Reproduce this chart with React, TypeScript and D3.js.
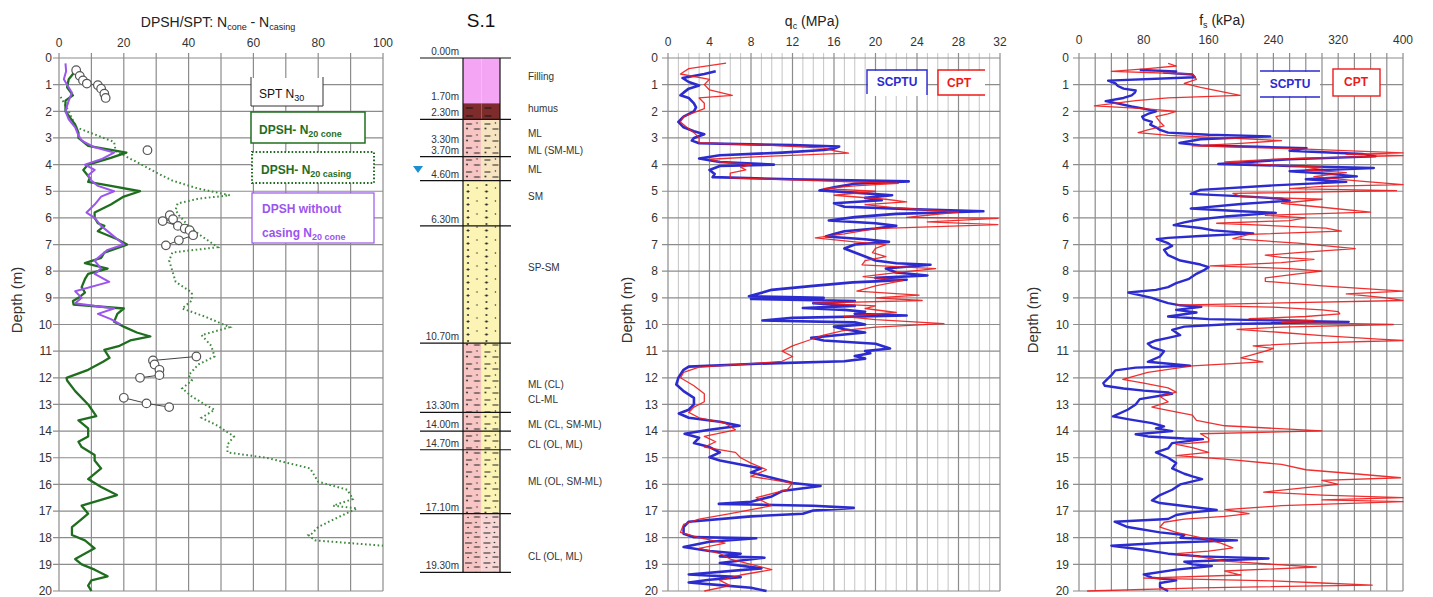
import * as d3 from "d3";

// ---------- DPSH / SPT panel: [depth m, N] ----------
const dpshCone: [number, number][] = [
  [0.5, 5], [0.8, 3], [1.1, 2.5], [1.4, 4.3], [1.6, 2], [2.0, 2], [2.5, 5], [2.8, 6], [3.0, 6], [3.3, 9],
  [3.45, 16], [3.55, 20.8], [3.75, 16], [4.0, 9], [4.2, 7.5], [4.5, 9.5], [4.65, 9], [4.8, 16], [5.0, 25],
  [5.2, 20], [5.5, 16], [5.8, 11], [6.0, 11], [6.2, 12], [6.3, 14], [6.5, 12], [6.8, 18], [7.0, 21],
  [7.3, 14], [7.5, 13], [7.7, 8], [7.9, 15], [8.1, 9], [8.3, 8], [8.6, 7], [8.8, 8], [9.0, 6], [9.12, 4.3],
  [9.25, 4.5], [9.4, 20], [9.6, 18], [9.9, 17], [10.1, 20.3], [10.3, 24], [10.45, 28.2], [10.6, 22],
  [10.8, 18.7], [10.95, 14], [11.25, 15.6], [11.4, 13.6], [11.7, 9], [12.0, 2.3], [12.1, 2.5], [12.5, 5],
  [13.0, 9], [13.44, 11.5], [13.6, 6], [13.9, 9], [14.2, 9], [14.4, 6], [14.6, 7], [14.9, 11], [15.1, 11],
  [15.4, 13], [15.8, 9], [16.1, 13], [16.4, 17.9], [16.8, 7], [17.1, 9], [17.3, 7], [17.6, 4], [17.9, 4],
  [18.1, 8], [18.4, 11], [18.8, 5], [19.0, 7], [19.2, 11], [19.45, 15], [19.6, 10], [19.8, 9], [20.0, 10],
];

const dpshNoCasing: [number, number][] = [
  [0.2, 2], [0.5, 2.2], [0.8, 1.5], [1.0, 2.5], [1.3, 4], [1.6, 3], [2.0, 2], [2.3, 3], [2.6, 5], [2.9, 6],
  [3.1, 7], [3.35, 11], [3.55, 17], [3.8, 13], [4.0, 8], [4.2, 11], [4.4, 9], [4.6, 10], [4.8, 12], [5.0, 17],
  [5.2, 13], [5.5, 11], [5.8, 8.5], [6.0, 11], [6.3, 13], [6.6, 16], [7.0, 20], [7.2, 15], [7.6, 11],
  [7.9, 13], [8.1, 11], [8.4, 15.5], [8.75, 5], [9.0, 7], [9.2, 5], [9.4, 17], [9.6, 12], [9.8, 16], [10.0, 19],
];

const dpshCasing: [number, number][] = [
  [1.46, 0.5], [2.0, 3], [2.6, 5.3], [3.15, 17], [3.5, 17.5], [3.96, 24.9], [4.3, 30], [4.6, 35], [4.9, 43],
  [5.15, 52.7], [5.28, 43], [5.46, 36.6], [5.7, 36], [5.9, 37], [6.3, 40], [6.6, 43], [7.1, 49], [7.3, 35],
  [7.6, 34], [8.0, 35], [8.4, 36], [8.8, 41], [9.1, 41], [9.4, 38], [9.7, 45], [10.1, 52.7], [10.4, 44],
  [10.8, 47], [11.2, 48], [11.5, 43], [11.9, 40], [12.1, 41], [12.4, 38], [12.7, 41], [13.0, 45], [13.2, 48],
  [13.5, 44], [13.8, 49], [14.2, 54], [14.5, 52], [14.8, 52], [15.0, 64], [15.4, 77.5], [15.9, 80],
  [16.2, 89], [16.55, 90.7], [16.8, 84.6], [16.9, 92], [17.3, 85], [17.6, 80], [17.85, 78], [17.9, 77],
  [18.1, 79], [18.3, 100],
];

const sptGroups: [number, number][][] = [
  [[0.46, 5.3], [0.67, 6.4], [0.84, 7.4], [0.96, 8.6], [1.02, 12], [1.15, 13], [1.34, 14], [1.5, 14.4]],
  [[3.46, 27.3]],
  [[5.9, 34.2], [6.05, 35.2], [6.12, 32], [6.3, 36.7], [6.4, 38.8], [6.46, 40.3], [6.65, 41.4], [6.84, 37], [7.03, 33]],
  [[11.2, 42.4], [11.35, 29], [11.5, 29.5], [11.7, 31], [11.9, 31], [12.0, 25]],
  [[12.75, 20], [12.96, 27], [13.1, 34]],
];

// ---------- borehole S.1 ----------
const layerBounds = [0, 1.7, 2.3, 3.7, 4.6, 6.3, 10.7, 13.3, 14.0, 14.7, 17.1, 19.3];
const layerLeftColors = ["#f4a6f4", "#7d2b2b", "#f8c5c5", "#f8c5c5", "#fbf4b4", "#fbf4b4", "#f8c5c5", "#f8c5c5", "#f8c5c5", "#f8c5c5", "#f8c5c5"];
const layerRightColors = ["#f4a6f4", "#7d2b2b", "#f7e4c0", "#f7e4c0", "#fbf4b4", "#fbf4b4", "#fbf4b4", "#fbf4b4", "#fbf4b4", "#fbf4b4", "#f8d6d6"];
const layerPatterns = ["", "humus", "silt", "silt", "sand", "sand", "silt", "silt", "silt", "silt", "clay"];
const lineDepths = [0, 2.3, 3.7, 4.6, 6.3, 10.7, 13.3, 14.0, 14.7, 17.1, 19.3];
const depthLabelValues = [0, 1.7, 2.3, 3.3, 3.7, 4.6, 6.3, 10.7, 13.3, 14.0, 14.7, 17.1, 19.3];
const depthLabelTexts = ["0.00m", "1.70m", "2.30m", "3.30m", "3.70m", "4.60m", "6.30m", "10.70m", "13.30m", "14.00m", "14.70m", "17.10m", "19.30m"];
const soilNames = ["Filling", "humus", "ML", "ML (SM-ML)", "ML", "SM", "SP-SM", "ML (CL)", "CL-ML", "ML (CL, SM-ML)", "CL (OL, ML)", "ML (OL, SM-ML)", "CL (OL, ML)"];
const soilNameDepths = [0.68, 1.9, 2.83, 3.46, 4.2, 5.2, 7.85, 12.25, 12.8, 13.75, 14.5, 15.9, 18.7];
const waterTable = 4.2;

// ---------- qc panel: [depth m, MPa] ----------
const qcScptu: [number, number][] = [
  [0.5, 4.6], [0.6, 3.5], [0.75, 1.4], [0.9, 2], [1.03, 3], [1.15, 2], [1.3, 1.5], [1.4, 1.2], [1.5, 2], [1.7, 2.5],
  [1.85, 2.7], [2.0, 2.5], [2.2, 1.5], [2.4, 1], [2.6, 1.5], [2.75, 2.5], [2.86, 3.5], [3.0, 2.5], [3.1, 2.3],
  [3.2, 3], [3.27, 12], [3.32, 16.5], [3.4, 16], [3.45, 15], [3.55, 11], [3.65, 5], [3.77, 3], [3.9, 5],
  [4.0, 10.2], [4.05, 5], [4.2, 4], [4.35, 4.5], [4.47, 4.3], [4.55, 12], [4.63, 23.2], [4.72, 18], [4.85, 16],
  [4.97, 14.6], [5.05, 18], [5.15, 21.6], [5.25, 19], [5.34, 20.6], [5.45, 16], [5.58, 17], [5.68, 24],
  [5.75, 30.4], [5.85, 22], [5.97, 18], [6.1, 15.5], [6.2, 20], [6.3, 22], [6.4, 20], [6.5, 17], [6.6, 16],
  [6.7, 15.2], [6.8, 19], [6.9, 21.3], [7.0, 18], [7.15, 17], [7.3, 18], [7.45, 19], [7.6, 20], [7.7, 22],
  [7.76, 25.3], [7.9, 21], [8.05, 22], [8.16, 25], [8.25, 20], [8.32, 23], [8.38, 20], [8.42, 17.8],
  [8.55, 14], [8.7, 10], [8.94, 7.8], [9.0, 15], [9.04, 8], [9.12, 18], [9.2, 14], [9.3, 18], [9.38, 13],
  [9.45, 17], [9.52, 19], [9.6, 18], [9.66, 23], [9.75, 12], [9.85, 9.1], [9.92, 18], [10.0, 19], [10.08, 16],
  [10.18, 17], [10.3, 19], [10.5, 13.8], [10.6, 15], [10.72, 20], [10.9, 21.4], [11.0, 19], [11.08, 19.5],
  [11.18, 18], [11.28, 19], [11.38, 17], [11.48, 8], [11.58, 2], [11.7, 1.5], [12.0, 1], [12.25, 0.8],
  [12.5, 1.5], [12.75, 2.5], [13.0, 2.5], [13.2, 2], [13.34, 1.05], [13.5, 2], [13.65, 5], [13.8, 6.9],
  [13.95, 4], [14.1, 1.6], [14.25, 3], [14.45, 2.5], [14.6, 4], [14.8, 5], [14.98, 4], [15.1, 5], [15.25, 7],
  [15.4, 9], [15.55, 8], [15.75, 10], [15.95, 12], [16.06, 14.7], [16.25, 11], [16.45, 10], [16.65, 8],
  [16.73, 4.9], [16.8, 14], [16.88, 17.9], [16.98, 14], [17.1, 13], [17.2, 8], [17.4, 2], [17.6, 1.5],
  [17.85, 1.5], [17.98, 2.5], [18.02, 8.5], [18.15, 4], [18.35, 1.5], [18.5, 4], [18.6, 7], [18.7, 5],
  [18.75, 9.3], [18.95, 5], [19.15, 9], [19.38, 2], [19.48, 7], [19.58, 4], [19.68, 2], [19.78, 5], [19.88, 8],
  [20.0, 9.5],
];

const qcCpt: [number, number][] = [
  [0.19, 5.6], [0.4, 2], [0.6, 1.2], [0.8, 4], [1.0, 3.5], [1.2, 4], [1.4, 6.2], [1.5, 3], [1.7, 3.5], [1.9, 3.5],
  [2.05, 2.5], [2.2, 1.5], [2.4, 1.2], [2.6, 1.8], [2.8, 2.5], [3.0, 3], [3.18, 3], [3.28, 10], [3.38, 15],
  [3.48, 16], [3.57, 17.4], [3.68, 10], [3.8, 4], [3.9, 5], [4.0, 8], [4.1, 7], [4.2, 7.5], [4.32, 6], [4.5, 6],
  [4.6, 14], [4.7, 22.2], [4.8, 18], [4.9, 15], [5.0, 20], [5.15, 16], [5.3, 21], [5.4, 23], [5.5, 19],
  [5.62, 22], [5.78, 28], [5.9, 25], [5.98, 23], [6.02, 31.8], [6.15, 25], [6.25, 31.8], [6.4, 20], [6.6, 17],
  [6.75, 14.2], [6.9, 18], [7.0, 21], [7.14, 20], [7.3, 19.7], [7.45, 21], [7.6, 19], [7.76, 18.7], [7.9, 25.8],
  [8.05, 22], [8.2, 18.8], [8.35, 22.6], [8.55, 20], [8.75, 18.2], [8.9, 24.2], [9.0, 20], [9.1, 24.5],
  [9.2, 14], [9.3, 20], [9.4, 19], [9.55, 22], [9.7, 17], [9.82, 20], [9.97, 26.6], [10.1, 20], [10.22, 17],
  [10.4, 15], [10.6, 13.5], [10.8, 12], [11.0, 11], [11.2, 12], [11.38, 11], [11.5, 7], [11.6, 3], [11.8, 1.5],
  [12.0, 1.2], [12.3, 2.5], [12.6, 3.5], [12.9, 3.5], [13.1, 2.5], [13.3, 2], [13.5, 3], [13.7, 5.5],
  [13.95, 6.5], [14.2, 3.5], [14.4, 4.6], [14.6, 3.5], [14.8, 6.5], [15.0, 7], [15.2, 8], [15.45, 9.5],
  [15.7, 8], [15.95, 12], [16.2, 11.5], [16.5, 8.5], [16.8, 10], [17.1, 6], [17.3, 3], [17.5, 1.5], [17.8, 1.2],
  [18.0, 3], [18.2, 5.5], [18.4, 3], [18.6, 5], [18.8, 6], [19.0, 8], [19.2, 10], [19.4, 7], [19.6, 5],
  [19.8, 6], [20.0, 3.5],
];

// ---------- fs panel: [depth m, kPa] ----------
const fsScptu: [number, number][] = [
  [0.45, 75], [0.5, 120], [0.55, 105], [0.62, 140], [0.72, 143], [0.85, 36], [0.95, 45], [1.05, 48], [1.15, 55],
  [1.22, 70], [1.3, 69], [1.4, 65], [1.5, 55], [1.62, 33], [1.72, 50], [1.82, 65], [1.9, 80], [2.0, 95],
  [2.1, 85], [2.2, 78], [2.3, 80], [2.4, 90], [2.5, 88], [2.6, 95], [2.7, 100], [2.8, 110], [2.88, 160],
  [2.94, 236], [3.05, 150], [3.19, 124], [3.28, 150], [3.33, 220], [3.38, 281], [3.48, 260], [3.6, 350],
  [3.69, 366], [3.8, 260], [3.98, 172], [4.05, 260], [4.13, 364], [4.25, 260], [4.35, 310], [4.44, 343],
  [4.55, 280], [4.65, 330], [4.78, 240], [4.95, 150], [5.1, 138], [5.2, 210], [5.28, 250], [5.35, 260],
  [5.48, 200], [5.65, 138], [5.75, 200], [5.81, 243], [5.95, 180], [6.05, 150], [6.17, 130], [6.27, 117],
  [6.38, 150], [6.47, 166], [6.58, 215], [6.68, 150], [6.75, 110], [6.8, 96], [6.95, 110], [7.05, 115],
  [7.2, 105], [7.4, 110], [7.6, 125], [7.75, 150], [7.85, 160], [7.95, 155], [8.1, 145], [8.3, 135],
  [8.45, 120], [8.6, 110], [8.7, 95], [8.8, 61], [8.9, 75], [9.0, 90], [9.1, 100], [9.2, 110], [9.28, 125],
  [9.34, 151], [9.45, 120], [9.55, 145], [9.7, 110], [9.8, 160], [9.9, 333], [9.98, 190], [10.08, 130],
  [10.2, 115], [10.3, 120], [10.4, 125], [10.5, 110], [10.6, 95], [10.72, 85], [10.85, 90], [11.0, 105],
  [11.2, 100], [11.4, 85], [11.55, 137], [11.62, 70], [11.72, 45], [11.9, 40], [12.05, 35], [12.2, 30],
  [12.3, 32], [12.4, 55], [12.48, 80], [12.55, 110], [12.6, 115], [12.8, 75], [13.0, 70], [13.2, 60],
  [13.45, 42], [13.55, 60], [13.7, 90], [13.82, 105], [13.9, 95], [14.0, 115], [14.12, 70], [14.2, 85],
  [14.28, 130], [14.3, 153], [14.45, 115], [14.65, 110], [14.8, 95], [15.0, 110], [15.2, 120], [15.4, 115],
  [15.6, 130], [15.7, 140], [15.8, 152], [16.0, 125], [16.2, 115], [16.4, 100], [16.6, 90], [16.7, 100],
  [16.85, 140], [16.96, 170], [17.05, 140], [17.15, 120], [17.3, 110], [17.4, 44], [17.6, 60], [17.8, 100],
  [17.9, 130], [18.0, 125], [18.1, 195], [18.2, 100], [18.3, 40], [18.45, 80], [18.6, 110], [18.7, 150],
  [18.78, 234], [18.9, 130], [19.0, 140], [19.06, 164], [19.2, 120], [19.38, 80], [19.5, 90], [19.6, 120],
  [19.7, 100], [19.85, 100], [20.0, 110],
];

const fsCpt: [number, number][] = [
  [0.2, 110], [0.3, 120], [0.4, 85], [0.5, 40], [0.6, 140], [0.8, 145], [0.95, 130], [1.1, 150], [1.4, 199],
  [1.5, 110], [1.6, 70], [1.8, 19], [1.9, 80], [2.0, 120], [2.1, 110], [2.2, 95], [2.4, 100], [2.55, 105],
  [2.7, 85], [2.8, 73], [2.9, 110], [3.0, 180], [3.1, 250], [3.2, 200], [3.3, 140], [3.42, 280], [3.56, 400],
  [3.62, 330], [3.66, 400], [3.72, 330], [3.8, 240], [3.9, 180], [4.0, 230], [4.1, 300], [4.2, 280], [4.3, 330],
  [4.45, 290], [4.6, 340], [4.75, 400], [4.82, 300], [4.9, 260], [4.98, 392], [5.08, 190], [5.2, 200],
  [5.3, 300], [5.45, 250], [5.6, 300], [5.78, 360], [5.9, 230], [6.0, 280], [6.1, 260], [6.2, 170], [6.38, 305],
  [6.5, 324], [6.62, 210], [6.78, 190], [6.95, 270], [7.15, 341], [7.3, 270], [7.4, 230], [7.48, 250],
  [7.56, 290], [7.68, 250], [7.8, 162], [7.9, 260], [8.0, 300], [8.1, 270], [8.25, 230], [8.38, 230],
  [8.55, 300], [8.75, 400], [8.85, 330], [9.0, 380], [9.1, 400], [9.27, 120], [9.35, 240], [9.45, 300],
  [9.52, 320], [9.6, 322], [9.7, 280], [9.78, 210], [9.85, 290], [9.92, 250], [10.0, 388], [10.1, 250],
  [10.18, 195], [10.3, 250], [10.42, 300], [10.55, 370], [10.6, 400], [10.7, 280], [10.8, 215], [10.9, 240],
  [11.0, 230], [11.25, 200], [11.4, 227], [11.55, 140], [11.8, 85], [12.06, 54], [12.2, 80], [12.38, 110],
  [12.54, 120], [12.7, 100], [12.9, 110], [13.1, 90], [13.22, 110], [13.4, 140], [13.6, 145], [13.8, 180],
  [13.99, 300], [14.1, 150], [14.28, 160], [14.4, 160], [14.5, 120], [14.62, 140], [14.8, 160], [14.92, 120],
  [15.05, 180], [15.25, 250], [15.45, 280], [15.6, 340], [15.75, 397], [15.85, 300], [16.0, 320], [16.12, 280],
  [16.29, 228], [16.4, 300], [16.5, 400], [16.58, 300], [16.65, 400], [16.8, 250], [16.95, 180], [17.1, 210],
  [17.2, 180], [17.3, 130], [17.42, 105], [17.6, 100], [17.8, 120], [18.0, 150], [18.2, 175], [18.38, 190],
  [18.5, 160], [18.6, 120], [18.72, 150], [18.88, 180], [19.0, 240], [19.1, 293], [19.25, 180], [19.4, 200],
  [19.52, 80], [19.62, 240], [19.7, 300], [19.78, 362], [19.88, 150], [20.0, 10],
];

const depthTicks = d3.range(0, 21);
const nTicks = [0, 20, 40, 60, 80, 100];
const qcTicks = [0, 4, 8, 12, 16, 20, 24, 28, 32];
const fsTicks = [0, 80, 160, 240, 320, 400];

const FONT = "'Liberation Sans', Arial, sans-serif";
const GREEN = "#1f6e1f";
const PURPLE = "#9b55ee";
const BLUE = "#2b2bcf";
const RED = "#ee1a1a";

export default function App() {
  const y = d3.scaleLinear().domain([0, 20]).range([58, 591]);
  const xN = d3.scaleLinear().domain([0, 100]).range([59, 383]);
  const xQc = d3.scaleLinear().domain([0, 32]).range([668, 1000]);
  const xFs = d3.scaleLinear().domain([0, 400]).range([1079, 1403]);

  const mk = (x: d3.ScaleLinear<number, number>) =>
    d3.line<[number, number]>().x((d) => x(d[1])).y((d) => y(d[0]));
  const lineN = mk(xN);
  const lineQc = mk(xQc);
  const lineFs = mk(xFs);

  const grid = (
    x: d3.ScaleLinear<number, number>,
    verticals: number[],
    majorTest: (v: number) => boolean,
    key: string
  ) => {
    const [x0, x1] = x.range();
    return (
      <g key={key}>
        {verticals.map((v) => (
          <line key={"v" + v} x1={x(v)} x2={x(v)} y1={y(0) - 5} y2={y(20)}
            stroke={majorTest(v) ? "#8c8c8c" : "#c4c4c4"} strokeWidth={majorTest(v) ? 1.2 : 1} />
        ))}
        {depthTicks.map((d) => (
          <line key={"h" + d} x1={x0 - 6} x2={x1} y1={y(d)} y2={y(d)} stroke="#8c8c8c" strokeWidth={1.2} />
        ))}
      </g>
    );
  };

  const depthLabels = (xRight: number) =>
    depthTicks.map((d) => (
      <text key={d} x={xRight} y={y(d)} dy="0.35em" textAnchor="end" fontSize={12} fill="#333">{d}</text>
    ));

  const colL = 463, colR = 500, colMid = 481.5;

  return (
    <svg width={1433} height={597} style={{ position: "absolute", left: 0, top: 0, background: "#fff" }} fontFamily={FONT}>
      <defs>
        <pattern id="sand" patternUnits="userSpaceOnUse" x={colL} y={0} width={18.5} height={13}>
          <circle cx={5} cy={3} r={1} fill="#222" />
          <path d="M3.5 9.5 L6.5 9.5 M5 8 L5 11" stroke="#222" strokeWidth={0.9} />
          <circle cx={14} cy={6} r={0.7} fill="#222" />
        </pattern>
        <pattern id="silt" patternUnits="userSpaceOnUse" x={colL} y={0} width={18.5} height={12}>
          <path d="M3 4 L9 4" stroke="#222" strokeWidth={1} />
          <circle cx={4} cy={8.5} r={0.9} fill="#222" />
          <path d="M11 9 L17 9" stroke="#222" strokeWidth={1} />
          <circle cx={14} cy={3} r={0.7} fill="#222" />
        </pattern>
        <pattern id="clay" patternUnits="userSpaceOnUse" x={colL} y={0} width={18.5} height={10}>
          <path d="M2 3 L9 3 M11 7 L17 7" stroke="#222" strokeWidth={1} />
          <circle cx={5} cy={7.5} r={0.8} fill="#222" />
          <circle cx={13} cy={2.5} r={0.8} fill="#222" />
        </pattern>
        <pattern id="humus" patternUnits="userSpaceOnUse" x={colL} y={0} width={18.5} height={8}>
          <path d="M3 4 L10 4" stroke="#111" strokeWidth={1} />
        </pattern>
      </defs>

      {/* ---------- Panel 1: DPSH / SPT ---------- */}
      {grid(xN, d3.range(0, 101, 10), () => true, "g1")}
      {nTicks.map((t) => (
        <text key={t} x={xN(t)} y={44} textAnchor="middle" dominantBaseline="middle" fontSize={12} fill="#333">{t}</text>
      ))}
      {depthLabels(52)}
      <text x={218} y={27} textAnchor="middle" fontSize={14} fill="#222">
        DPSH/SPT: N<tspan fontSize={9} dy={3}>cone</tspan><tspan dy={-3}> - N</tspan><tspan fontSize={9} dy={3}>casing</tspan>
      </text>
      <text transform="translate(22,300) rotate(-90)" textAnchor="middle" fontSize={15} fill="#333">Depth (m)</text>

      <path d={lineN(dpshCasing) ?? ""} fill="none" stroke="#3f8a3f" strokeWidth={2} strokeDasharray="1.6 2.6" />
      <path d={lineN(dpshCone) ?? ""} fill="none" stroke={GREEN} strokeWidth={2.3} strokeLinejoin="round" />
      <path d={lineN(dpshNoCasing) ?? ""} fill="none" stroke={PURPLE} strokeWidth={2} strokeLinejoin="round" />
      {sptGroups.map((g, i) => (
        <g key={i}>
          <path d={lineN(g) ?? ""} fill="none" stroke="#444" strokeWidth={1} />
          {g.map((p, j) => (
            <circle key={j} cx={xN(p[1])} cy={y(p[0])} r={4.3} fill="#fff" stroke="#555" strokeWidth={1.2} />
          ))}
        </g>
      ))}

      {/* legends panel 1 */}
      <rect x={251} y={78} width={72} height={28} fill="#fff" />
      <path d="M251 77 V106 H323 V77" fill="none" stroke="#333" strokeWidth={1} />
      <text x={259} y={98} fontSize={12} fill="#111">SPT  N<tspan fontSize={9} dy={3}>30</tspan></text>
      <rect x={251} y={112} width={114} height={31} fill="#fff" stroke={GREEN} strokeWidth={1.5} />
      <text x={259} y={134} fontSize={12} fontWeight={700} fill={GREEN}>DPSH- N<tspan fontSize={9} dy={3}>20 cone</tspan></text>
      <rect x={252} y={152} width={122} height={31} fill="#fff" stroke={GREEN} strokeWidth={2} strokeDasharray="1.6 2" />
      <text x={261} y={174} fontSize={12} fontWeight={700} fill={GREEN}>DPSH- N<tspan fontSize={9} dy={3}>20 casing</tspan></text>
      <rect x={252} y={193} width={122} height={50} fill="#fff" stroke={PURPLE} strokeWidth={1.2} />
      <text x={262} y={213} fontSize={12} fontWeight={700} fill={PURPLE}>DPSH without</text>
      <text x={262} y={237} fontSize={12} fontWeight={700} fill={PURPLE}>casing   N<tspan fontSize={9} dy={3}>20 cone</tspan></text>

      {/* ---------- Panel 2: Borehole S.1 ---------- */}
      <text x={481} y={27} textAnchor="middle" fontSize={19} fill="#111">S.1</text>
      {layerLeftColors.map((c, i) => {
        const top = y(layerBounds[i]);
        const h = y(layerBounds[i + 1]) - top;
        return (
          <g key={i}>
            <rect x={colL} y={top} width={colMid - colL} height={h} fill={c} />
            <rect x={colMid} y={top} width={colR - colMid} height={h} fill={layerRightColors[i]} />
            {layerPatterns[i] && (
              <rect x={colL} y={top} width={colR - colL} height={h} fill={`url(#${layerPatterns[i]})`} />
            )}
          </g>
        );
      })}
      <line x1={colL} x2={colL} y1={y(0)} y2={y(19.3)} stroke="#111" strokeWidth={1.2} />
      <line x1={colR} x2={colR} y1={y(0)} y2={y(19.3)} stroke="#111" strokeWidth={1.2} />
      {lineDepths.map((d) => (
        <line key={d} x1={420} x2={511} y1={y(d)} y2={y(d)} stroke="#111" strokeWidth={1.2} />
      ))}
      {depthLabelValues.map((d, i) => (
        <text key={i} x={459} y={y(d) - 3} textAnchor="end" fontSize={10} fill="#333">{depthLabelTexts[i]}</text>
      ))}
      {soilNames.map((s, i) => (
        <text key={i} x={528} y={y(soilNameDepths[i])} dy="0.35em" fontSize={10} fill="#333">{s}</text>
      ))}
      <path d={`M413 ${y(waterTable) - 4} L423 ${y(waterTable) - 4} L418 ${y(waterTable) + 3} Z`} fill="#1b8fd0" />

      {/* ---------- Panel 3: qc ---------- */}
      {grid(xQc, d3.range(0, 33, 1), (v) => v % 4 === 0, "g3")}
      {qcTicks.map((t) => (
        <text key={t} x={xQc(t)} y={43} textAnchor="middle" dominantBaseline="middle" fontSize={12} fill="#333">{t}</text>
      ))}
      {depthLabels(658)}
      <text x={812} y={26} textAnchor="middle" fontSize={14} fill="#222">
        q<tspan fontSize={9} dy={3}>c</tspan><tspan dy={-3}> (MPa)</tspan>
      </text>
      <text transform="translate(632,310) rotate(-90)" textAnchor="middle" fontSize={15} fill="#333">Depth (m)</text>
      <path d={lineQc(qcScptu) ?? ""} fill="none" stroke={BLUE} strokeWidth={2.6} strokeLinejoin="round" />
      <path d={lineQc(qcCpt) ?? ""} fill="none" stroke={RED} strokeWidth={1.3} strokeLinejoin="round" opacity={0.9} />
      <rect x={868} y={71} width={59} height={25} fill="#fff" />
      <path d="M867 94 V70 H927 V95" fill="none" stroke={BLUE} strokeWidth={1.4} />
      <text x={897} y={83} textAnchor="middle" dominantBaseline="middle" fontSize={12} fontWeight={700} fill={BLUE}>SCPTU</text>
      <rect x={938} y={71} width={47} height={24} fill="#fff" />
      <path d="M985 70 H938 V95 H985" fill="none" stroke={RED} strokeWidth={1.4} />
      <text x={959} y={84} textAnchor="middle" dominantBaseline="middle" fontSize={12} fontWeight={700} fill={RED}>CPT</text>

      {/* ---------- Panel 4: fs ---------- */}
      {grid(xFs, d3.range(0, 401, 20), () => true, "g4")}
      {fsTicks.map((t) => (
        <text key={t} x={xFs(t)} y={41} textAnchor="middle" dominantBaseline="middle" fontSize={12} fill="#333">{t}</text>
      ))}
      {depthLabels(1069)}
      <text x={1222} y={25} textAnchor="middle" fontSize={14} fill="#222">
        f<tspan fontSize={9} dy={3}>s</tspan><tspan dy={-3}> (kPa)</tspan>
      </text>
      <text transform="translate(1038,320) rotate(-90)" textAnchor="middle" fontSize={15} fill="#333">Depth (m)</text>
      <path d={lineFs(fsScptu) ?? ""} fill="none" stroke={BLUE} strokeWidth={2.4} strokeLinejoin="round" />
      <path d={lineFs(fsCpt) ?? ""} fill="none" stroke={RED} strokeWidth={1.3} strokeLinejoin="round" opacity={0.9} />
      <rect x={1260} y={72} width={60} height={24} fill="#fff" />
      <path d="M1260 71 H1320 M1260 97 H1320" fill="none" stroke={BLUE} strokeWidth={1.4} />
      <text x={1290} y={85} textAnchor="middle" dominantBaseline="middle" fontSize={12} fontWeight={700} fill={BLUE}>SCPTU</text>
      <rect x={1333} y={69} width={47} height={27} fill="#fff" stroke={RED} strokeWidth={1.4} />
      <text x={1356} y={83} textAnchor="middle" dominantBaseline="middle" fontSize={12} fontWeight={700} fill={RED}>CPT</text>
    </svg>
  );
}
